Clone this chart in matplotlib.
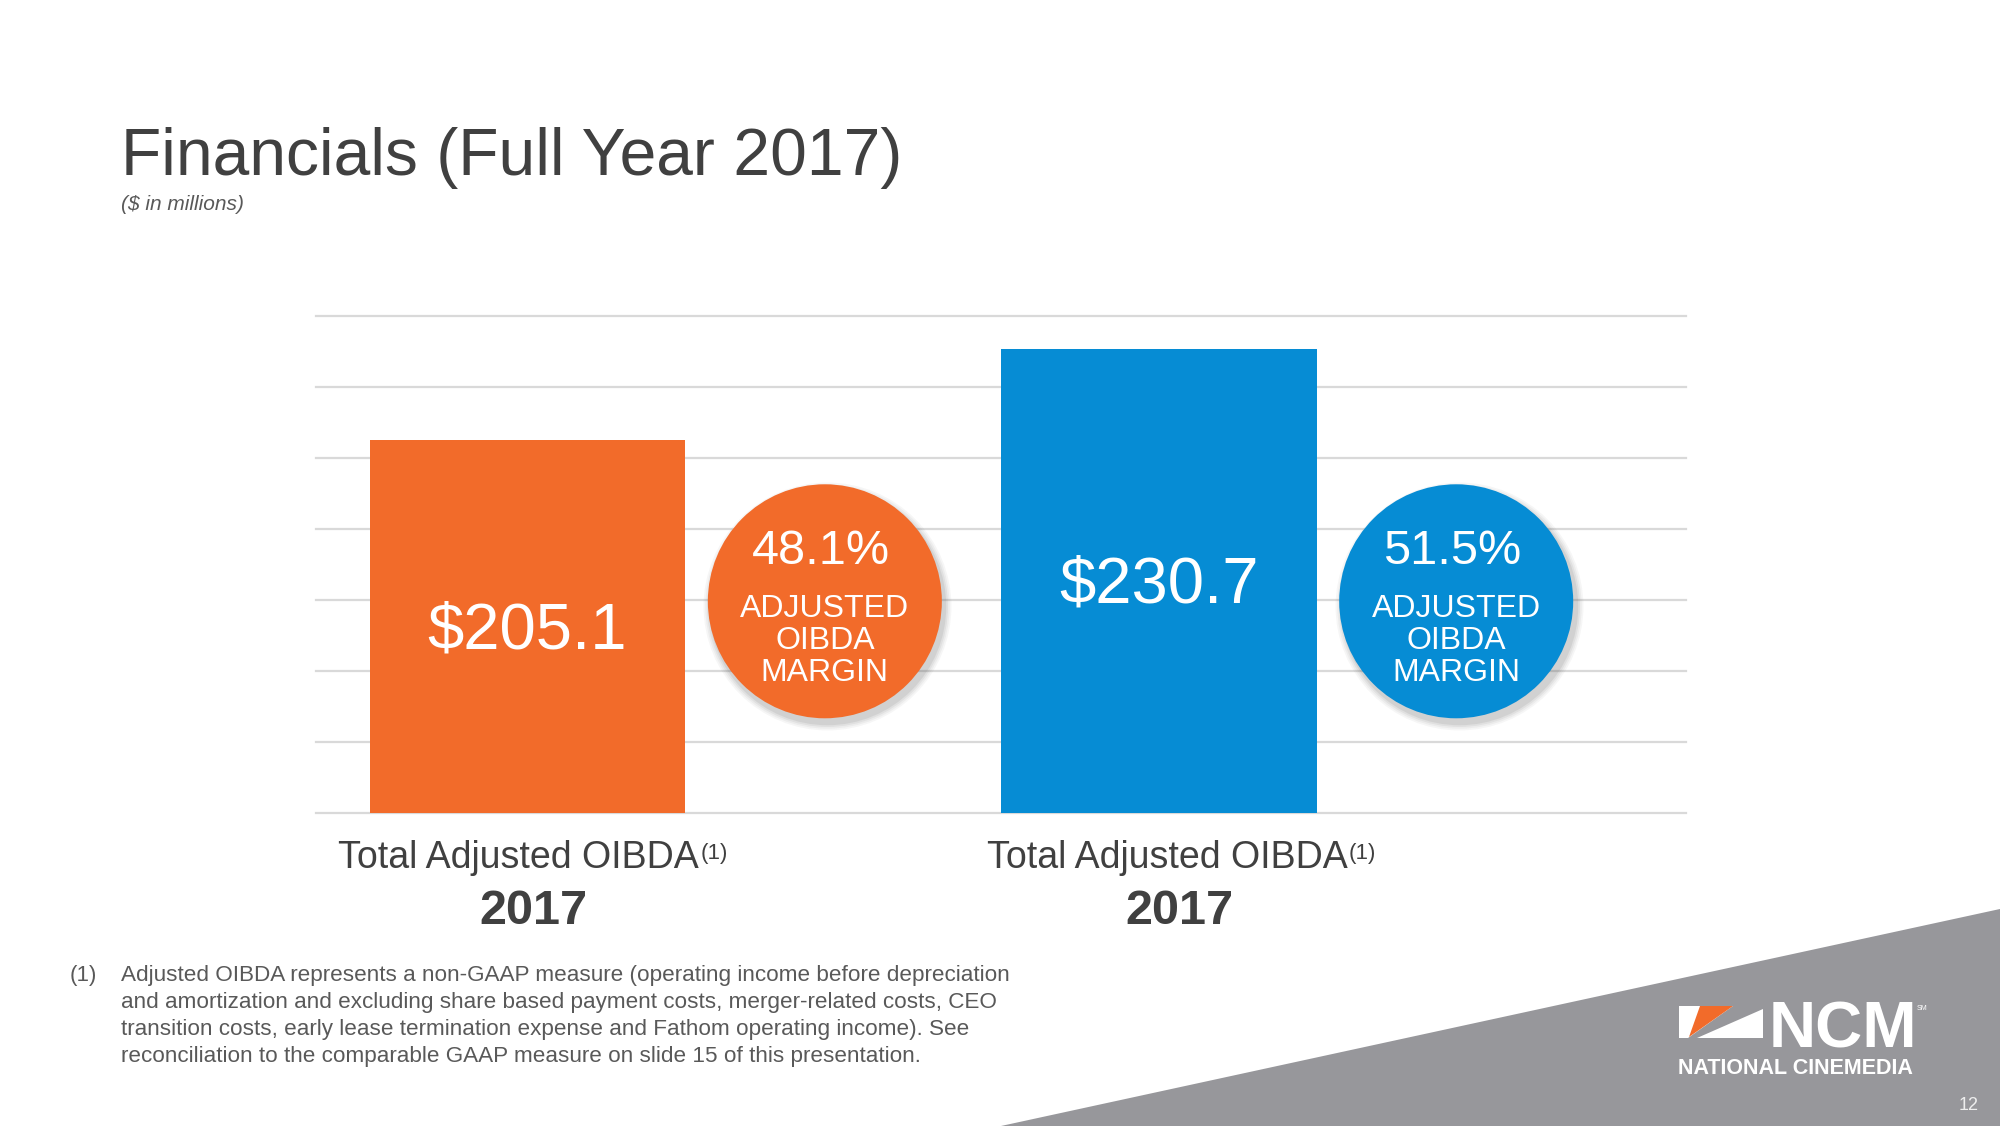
import matplotlib.pyplot as plt
import matplotlib.transforms as mtransforms
from matplotlib.patches import Polygon

plt.rcParams['font.family'] = ['Liberation Sans', 'DejaVu Sans']

# data
categories = ["Total Adjusted OIBDA", "Total Adjusted OIBDA"]
years = ["2017", "2017"]
oibda = [205.1, 230.7]
margin = [48.1, 51.5]
bar_colors = ["#F26B2A", "#068CD4"]
grid_ticks = [100, 120, 140, 160, 180, 200, 220, 240]
footnote = [
    "Adjusted OIBDA represents a non-GAAP measure (operating income before depreciation",
    "and amortization and excluding share based payment costs, merger-related costs, CEO",
    "transition costs, early lease termination expense and Fathom operating income). See",
    "reconciliation to the comparable GAAP measure on slide 15 of this presentation.",
]

W, H = 2000, 1126
fig = plt.figure(figsize=(W / 100, H / 100), dpi=100)

# background layer in pixel coords (slide decoration)
bg = fig.add_axes([0, 0, 1, 1], zorder=0)
bg.set_xlim(0, W)
bg.set_ylim(H, 0)
bg.axis("off")
bg.add_patch(Polygon([(1001, H), (W, 909), (W, H)], closed=True, color="#97979B", lw=0))

# NCM logo (approximate)
bg.add_patch(Polygon([(1679, 1006), (1733, 1006), (1688, 1038), (1679, 1038)], color="white", lw=0))
bg.add_patch(Polygon([(1700, 1006), (1733, 1006), (1689, 1037)], color="#F26B2A", lw=0))
bg.add_patch(Polygon([(1763, 1009), (1763, 1038), (1697, 1038)], color="white", lw=0))
bg.text(1769, 1047, "NCM", color="white", fontsize=47, fontweight="bold", va="baseline", ha="left")
bg.text(1917, 1009, "SM", color="white", fontsize=5, va="center", ha="left")
bg.text(1678, 1068, "NATIONAL CINEMEDIA", color="white", fontsize=15.5, fontweight="bold",
        va="center", ha="left")
bg.text(1969, 1106, "12", color="#EEEEEE", fontsize=13, va="center", ha="center")

# title
bg.text(121, 175, "Financials (Full Year 2017)", fontsize=47.5, color="#404040", va="baseline")
bg.text(121, 210, "($ in millions)", fontsize=15, style="italic", color="#595959", va="baseline")

# footnote
bg.text(70, 975, "(1)", fontsize=16, color="#595959", va="center")
for i, line in enumerate(footnote):
    bg.text(121, 975 + i * 27.3, line, fontsize=16.2, color="#595959", va="center")

# chart
ax = fig.add_axes([316 / W, 1 - 813 / H, 1370 / W, (813 - 315.7) / H], zorder=1)
ax.patch.set_alpha(0)
for s in ax.spines.values():
    s.set_visible(False)
ax.set_xlim(-0.335, 1.835)
ax.set_ylim(100, 240)
ax.set_xticks([])
ax.set_yticks([])
for t in grid_ticks:
    ax.axhline(t, color="#D9D9D9", lw=1.6, zorder=0, clip_on=False)

x = [0, 1]
ax.bar(x, oibda, width=0.5, color=bar_colors, zorder=2)

blend = mtransforms.blended_transform_factory(ax.transData, bg.transData)

circle_x = [xi + 0.471 for xi in x]
circle_y = 159.6
d_pt = 2 * 117 * 0.72
# soft shadow
for k, a in enumerate([0.05, 0.06, 0.08, 0.10]):
    grow = 10 - 2.5 * k
    ax.scatter([cx + 0.004 for cx in circle_x], [circle_y - 1.4] * 2, s=(d_pt + grow) ** 2,
               color="#555555", alpha=a, lw=0, zorder=3)
ax.scatter(circle_x, [circle_y] * 2, s=d_pt ** 2, color=bar_colors, lw=0, zorder=4)

for i in range(2):
    # value inside bar
    ax.annotate("$%.1f" % oibda[i], xy=(x[i], (oibda[i] + 100) / 2), xytext=(0, -3.5),
                textcoords="offset points", color="white", fontsize=47,
                ha="center", va="center", zorder=5)
    # margin circle text
    cx = circle_x[i]
    ax.text(cx - 0.007, 551, "%.1f%%" % margin[i], color="white", fontsize=35,
            ha="center", va="center", transform=blend, zorder=5)
    for j, word in enumerate(["ADJUSTED", "OIBDA", "MARGIN"]):
        ax.text(cx, 609 + j * 32, word, color="white", fontsize=23,
                ha="center", va="center", transform=blend, zorder=5)

# category labels
label_x = [-0.014, 1.013]
year_x = [0.0095, 1.033]
for i in range(2):
    t = ax.text(label_x[i], 858, categories[i], fontsize=27, color="#404040",
                ha="center", va="center", transform=blend)
    ax.annotate("(1)", xy=(1.0, 1.0), xycoords=t, xytext=(1, -2), textcoords="offset points",
                fontsize=16, color="#404040", ha="left", va="top")
    ax.text(year_x[i], 911, years[i], fontsize=35, fontweight="bold", color="#404040",
            ha="center", va="center", transform=blend)

plt.savefig("out.png", dpi=100)
